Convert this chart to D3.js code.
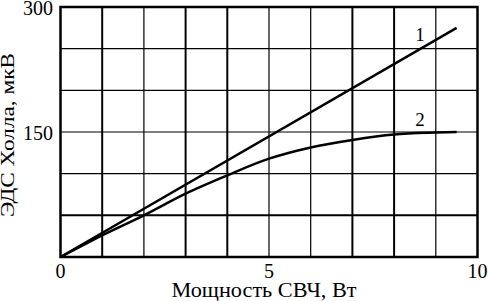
<!DOCTYPE html>
<html lang="ru">
	<head>
		<meta charset="utf-8">
		<title>ЭДС Холла</title>
		<script src="https://cdn.jsdelivr.net/npm/d3@7"></script>
		<style>
			body { margin: 0; background: #fff; }
			text { font-family: "Liberation Serif", "DejaVu Serif", serif; fill: #000; }
		</style>
	</head>
	<body>
		<script type="text/javascript">
			// data
			var x_ticks = [0, 5, 10];
			var y_ticks = [150, 300];
			var x_grid = [1, 2, 3, 4, 5, 6, 7, 8, 9];
			var y_grid = [50, 100, 150, 200, 250];
			var curve1_x = [0, 9.5];
			var curve1_y = [0, 275];
			var curve2_x = [0, 1, 2, 3, 4, 5, 6, 7, 8, 9, 9.5];
			var curve2_y = [0, 26, 50, 76, 98, 118, 131.5, 140.5, 147, 149.3, 150];
			var curve_labels = ["1", "2"];

			// parameters for the page
			var width = 488;
			var height = 301;
			var pad_left = 60.5, pad_right = 477.5, pad_top = 7, pad_bottom = 257;

			var svg = d3.select("body").append("svg").attr("width", width).attr("height", height);

			var x_scale = d3.scaleLinear().domain([0, 10]).range([pad_left, pad_right]);
			var y_scale = d3.scaleLinear().domain([0, 300]).range([pad_bottom, pad_top]);

			// grid (some lines come out heavier in the scan)
			var thick_x = [1, 3, 4, 7, 8];
			svg.selectAll(".vgrid")
				.data(x_grid)
				.enter()
				.append("line")
				.attr("x1", function (d) { return x_scale(d); })
				.attr("x2", function (d) { return x_scale(d); })
				.attr("y1", y_scale(0))
				.attr("y2", y_scale(300))
				.attr("stroke", "#000")
				.attr("stroke-width", function (d) { return thick_x.indexOf(d) >= 0 ? 2 : 1.2; });

			svg.selectAll(".hgrid")
				.data(y_grid)
				.enter()
				.append("line")
				.attr("x1", x_scale(0))
				.attr("x2", x_scale(10))
				.attr("y1", function (d) { return y_scale(d); })
				.attr("y2", function (d) { return y_scale(d); })
				.attr("stroke", "#000")
				.attr("stroke-width", function (d) { return d == 50 ? 2 : 1.2; });

			// frame
			svg.append("rect")
				.attr("x", x_scale(0))
				.attr("y", y_scale(300))
				.attr("width", x_scale(10) - x_scale(0))
				.attr("height", y_scale(0) - y_scale(300))
				.attr("fill", "none")
				.attr("stroke", "#000")
				.attr("stroke-width", 2.5);

			// tick labels
			svg.selectAll(".xtick")
				.data(x_ticks)
				.enter()
				.append("text")
				.attr("x", function (d) { return x_scale(d); })
				.attr("y", 278)
				.attr("text-anchor", "middle")
				.style("font-size", "20px")
				.text(function (d) { return d; });

			svg.selectAll(".ytick")
				.data(y_ticks)
				.enter()
				.append("text")
				.attr("x", 53)
				.attr("y", function (d) { return y_scale(d) + 7.5; })
				.attr("text-anchor", "end")
				.style("font-size", "20px")
				.text(function (d) { return d; });

			// curves
			var line = d3.line()
				.x(function (d) { return x_scale(d[0]); })
				.y(function (d) { return y_scale(d[1]); });

			svg.append("path")
				.datum(d3.zip(curve1_x, curve1_y))
				.attr("d", line)
				.attr("fill", "none")
				.attr("stroke", "#000")
				.attr("stroke-width", 2.5);

			svg.append("path")
				.datum(d3.zip(curve2_x, curve2_y))
				.attr("d", line.curve(d3.curveMonotoneX))
				.attr("fill", "none")
				.attr("stroke", "#000")
				.attr("stroke-width", 2.5);

			// curve numbers, placed in data units
			var label_at = [[8.62, 259.5], [8.62, 157]];
			svg.selectAll(".clabel")
				.data(curve_labels)
				.enter()
				.append("text")
				.attr("x", function (d, i) { return x_scale(label_at[i][0]); })
				.attr("y", function (d, i) { return y_scale(label_at[i][1]); })
				.attr("text-anchor", "middle")
				.style("font-size", "19px")
				.text(function (d) { return d; });

			// axis titles
			svg.append("text")
				.attr("x", 264)
				.attr("y", 297)
				.attr("text-anchor", "middle")
				.attr("textLength", 185)
				.attr("lengthAdjust", "spacingAndGlyphs")
				.style("font-size", "20px")
				.text("Мощность СВЧ, Вт");

			svg.append("text")
				.attr("transform", "translate(14,135) rotate(-90)")
				.attr("text-anchor", "middle")
				.attr("textLength", 164)
				.attr("lengthAdjust", "spacingAndGlyphs")
				.style("font-size", "18px")
				.text("ЭДС Холла, мкВ");
		</script>
	</body>
</html>
